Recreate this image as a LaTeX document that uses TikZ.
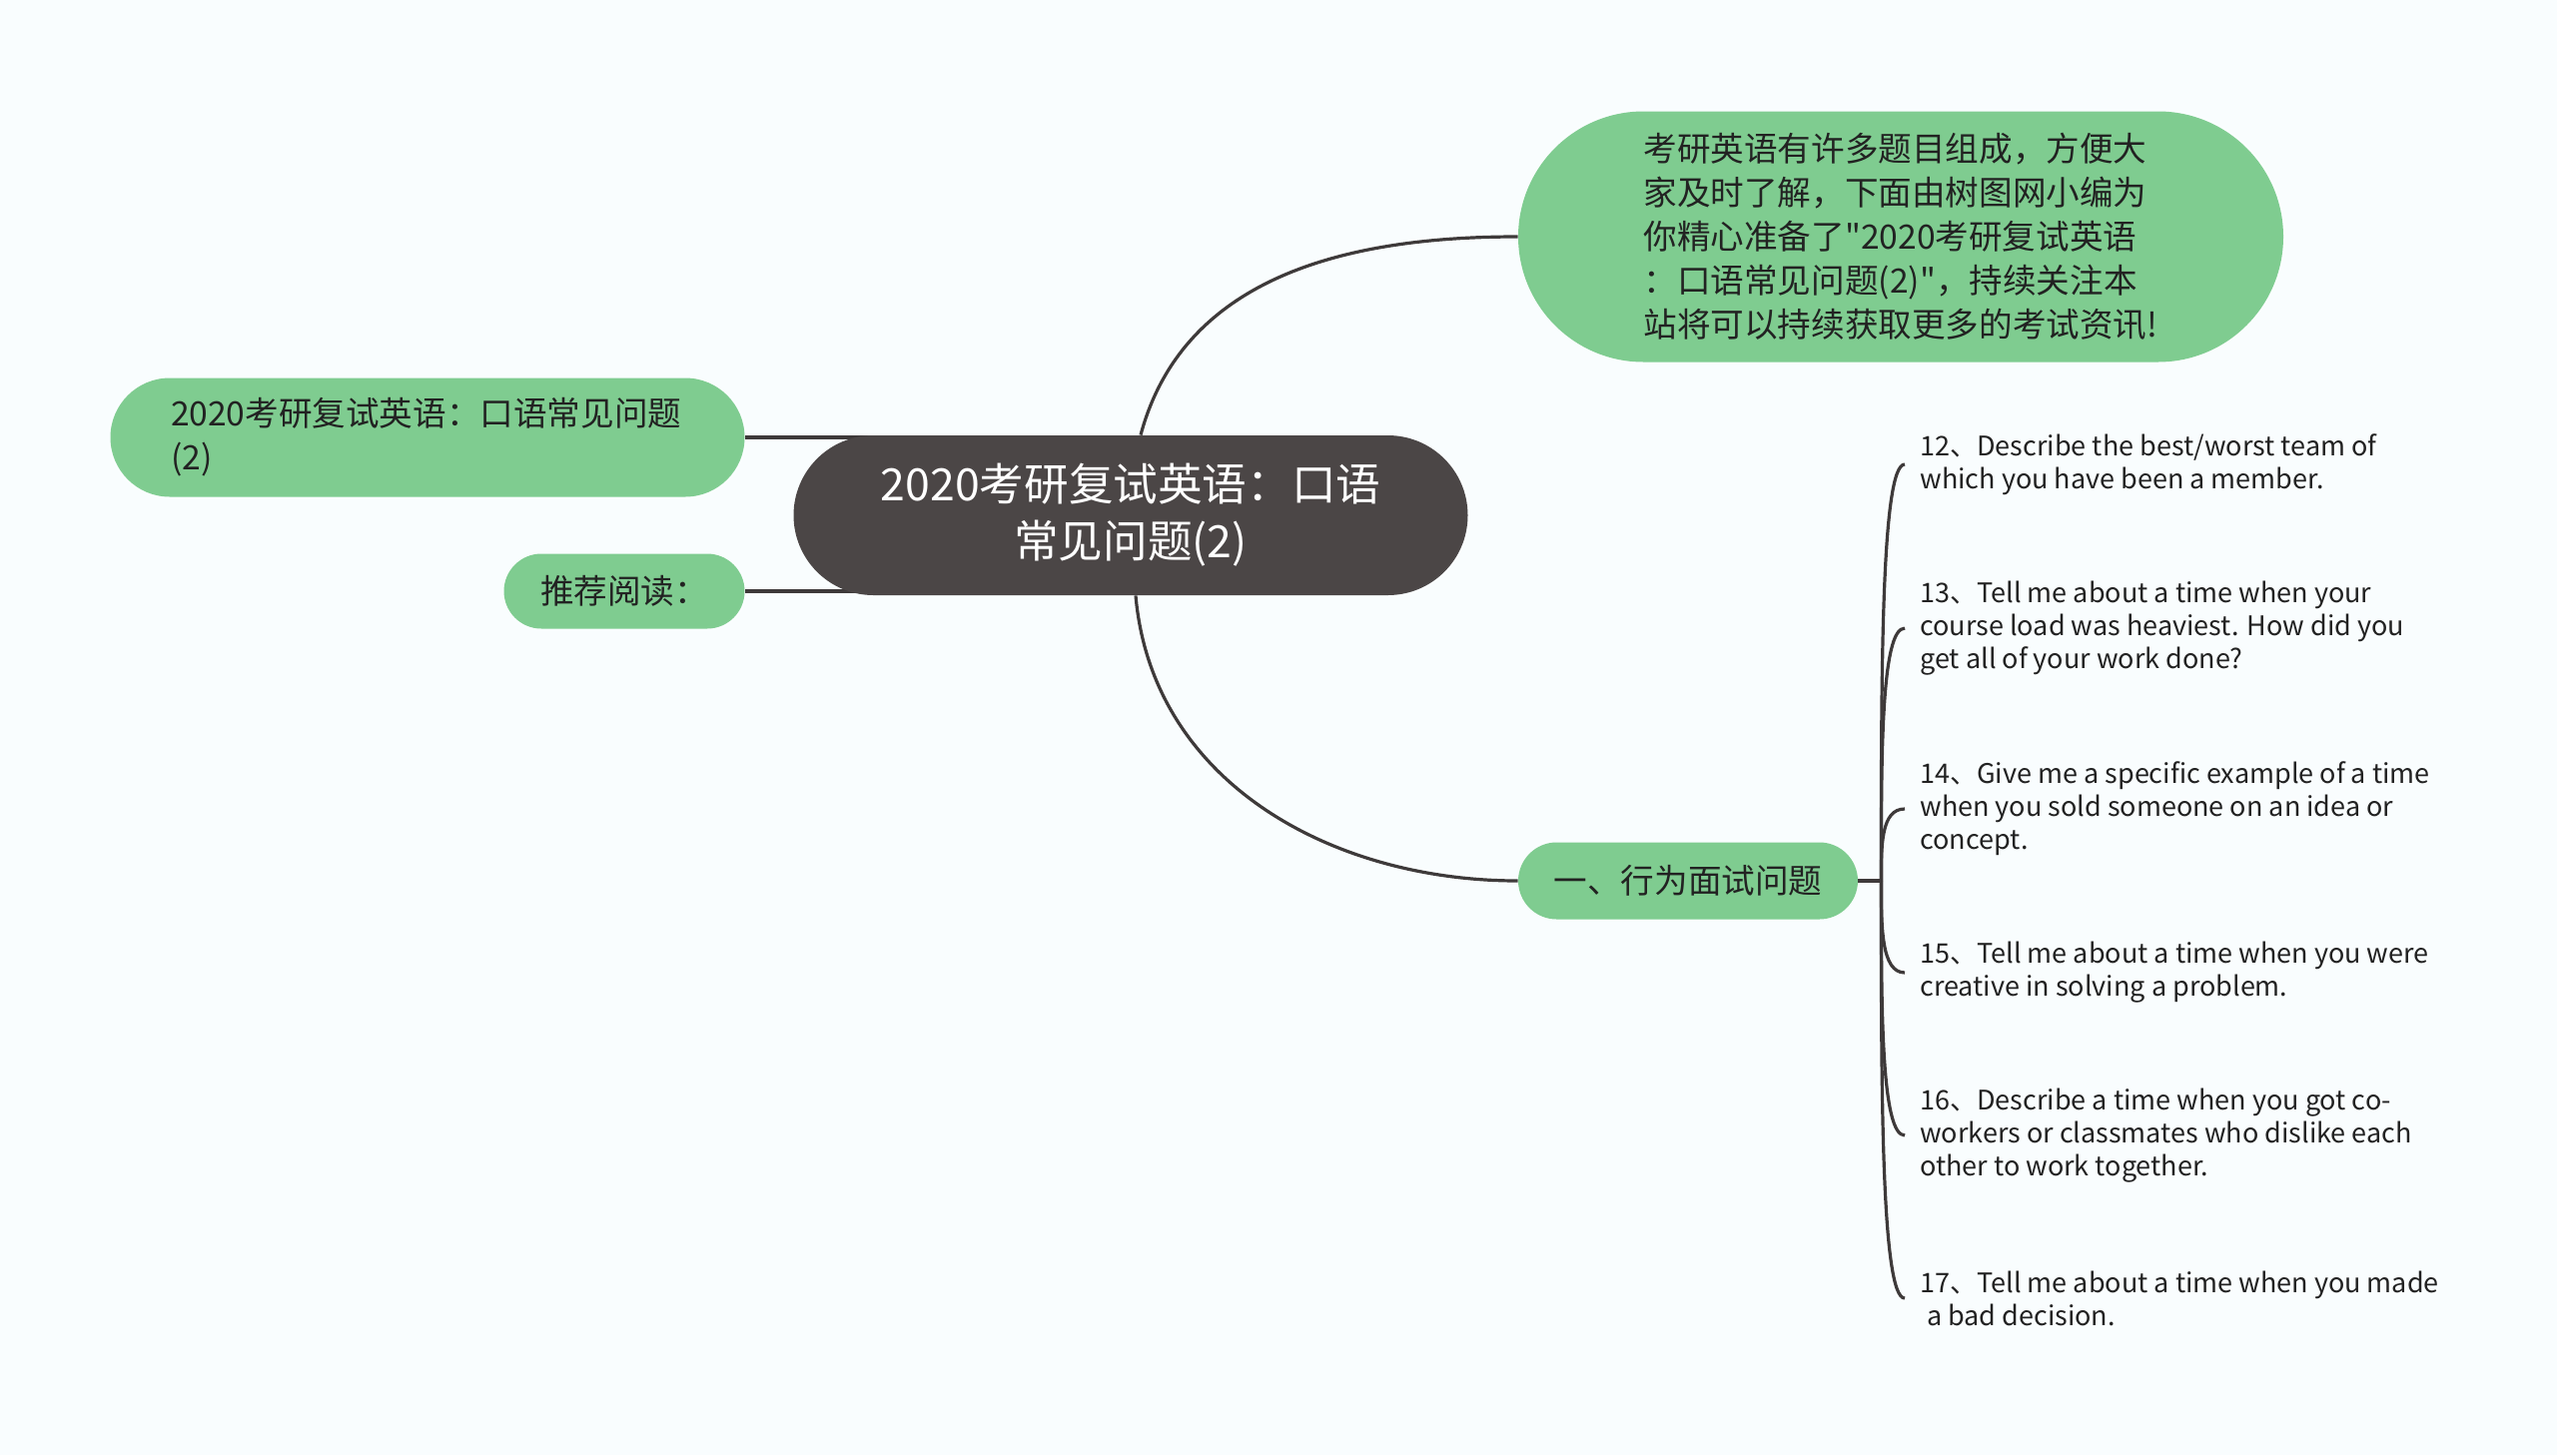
\documentclass[tikz,border=0pt]{standalone}
\usepackage{fontspec}
\setmainfont{Noto Sans CJK SC}
\newfontfamily\cjk{Noto Sans CJK SC}
\usepackage{xcolor}
\usepackage{tikz}
\usetikzlibrary{shapes.misc,positioning,calc,backgrounds}

\definecolor{paper}{HTML}{F9FDFE}
\definecolor{mapgreen}{HTML}{7FCC90}
\definecolor{hubgray}{HTML}{4B4646}
\definecolor{wire}{HTML}{3E3A3A}
\definecolor{inkgray}{HTML}{222222}

\begin{document}
\begin{tikzpicture}[
    x=0.5pt, y=-0.5pt,
    hub/.style={rounded rectangle, fill=hubgray, text=white, align=center, inner sep=0pt, font=\cjk\fontsize{22.3pt}{28.5pt}\selectfont},
    topic/.style={rounded rectangle, fill=mapgreen, text=inkgray, align=left, inner sep=0pt, font=\cjk\fontsize{16.8pt}{22pt}\selectfont},
    leaf/.style={anchor=west, align=left, inner xsep=7.5pt, inner ysep=0pt, text=inkgray, font=\cjk\fontsize{13.5pt}{16.5pt}\selectfont},
    link/.style={draw=wire, line width=1.6pt},
    twig/.style={to path={.. controls ($(\tikztostart)!0.5!(\tikztostart |- \tikztotarget)$) and (\tikztostart |- \tikztotarget) .. (\tikztotarget)}}
]
\begin{scope}[on background layer]
\fill[paper] (0,0) rectangle (2560,1457);
\end{scope}

% main topic and branches
\node[hub, minimum width=337.5pt, minimum height=80pt] (root) at (1132,516) {2020考研复试英语：口语\\常见问题(2)};
\node[topic, minimum width=383pt, minimum height=125.5pt] (intro) at (1903,237) {考研英语有许多题目组成，方便大\\家及时了解，下面由树图网小编为\\你精心准备了"2020考研复试英语\\：口语常见问题(2)"，持续关注本\\站将可以持续获取更多的考试资讯!};
\node[topic, minimum width=317.5pt, minimum height=59.5pt, text width=257pt] (title) at (428,438) {2020考研复试英语：口语常见问题\\(2)};
\node[topic, minimum width=120.5pt, minimum height=37.5pt] (reading) at (625,592) {推荐阅读：};
\node[topic, minimum width=170pt, minimum height=38.5pt] (behav) at (1690,882) {一、行为面试问题};

% questions
\node[leaf] (q12) at (1907,465) {12、Describe the best/worst team of\\which you have been a member.};
\node[leaf] (q13) at (1907,629) {13、Tell me about a time when your\\course load was heaviest. How did you\\get all of your work done?};
\node[leaf] (q14) at (1907,810) {14、Give me a specific example of a time\\when you sold someone on an idea or\\concept.};
\node[leaf] (q15) at (1907,974) {15、Tell me about a time when you were\\creative in solving a problem.};
\node[leaf] (q16) at (1907,1137) {16、Describe a time when you got co-\\workers or classmates who dislike each\\other to work together.};
\node[leaf] (q17) at (1907,1300) {17、Tell me about a time when you made\\\hspace*{0.25em}a bad decision.};

\begin{scope}[on background layer]
\draw[link] ([xshift=5pt]root.north) to[out=75, in=180] (intro.west);
\draw[link] ([xshift=2.5pt]root.south) to[out=-85, in=180] (behav.west);
\draw[link] (title.east) -- (title.east -| root.center);
\draw[link] (reading.east) -- (reading.east -| root.center);
\end{scope}

\draw[link] (behav.east) -- ++(23,0) coordinate (fork);
\draw[link] (fork) to[twig] (q12.west);
\draw[link] (fork) to[twig] (q13.west);
\draw[link] (fork) to[twig] (q14.west);
\draw[link] (fork) to[twig] (q15.west);
\draw[link] (fork) to[twig] (q16.west);
\draw[link] (fork) to[twig] (q17.west);
\end{tikzpicture}
\end{document}
